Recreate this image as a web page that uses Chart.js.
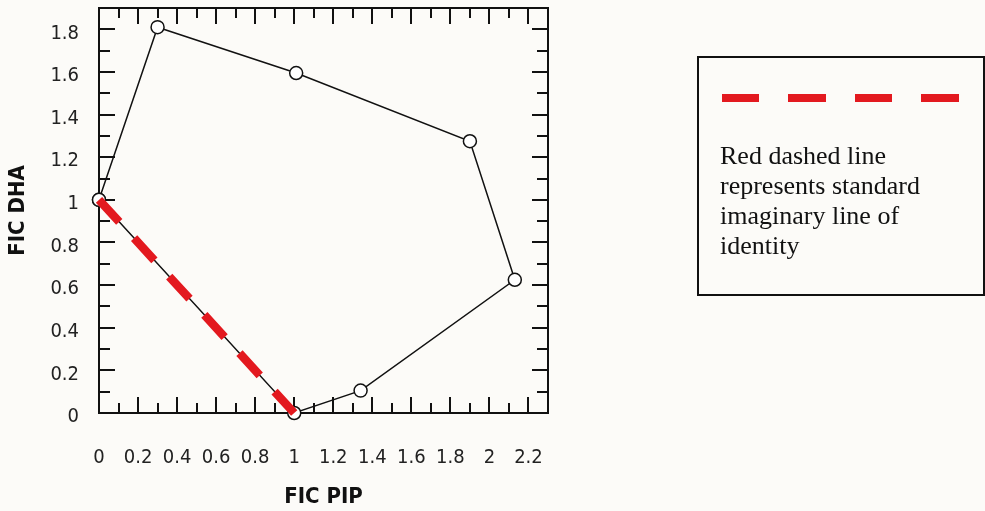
<!DOCTYPE html>
<html>
<head>
<meta charset="utf-8">
<script src="https://cdn.jsdelivr.net/npm/chart.js@4/dist/chart.umd.min.js"></script>
<style>
  html, body { margin: 0; padding: 0; background: #fcfbf8; }
  #wrap { position: relative; width: 985px; height: 511px; }
  #key {
    position: absolute; left: 697px; top: 56px; width: 288px; height: 240px;
    box-sizing: border-box; border: 2px solid #111;
  }
  #keyDash {
    position: absolute; left: 722px; top: 94px; width: 238px; height: 8px;
    background: repeating-linear-gradient(90deg, #e3191f 0 37.5px, transparent 37.5px 66.5px);
  }
  #keyText {
    position: absolute; left: 720px; top: 141px;
    font-family: "Liberation Serif", serif; font-size: 26px; line-height: 30px; color: #111;
  }
</style>
</head>
<body>
<div id="wrap">
  <canvas id="ficChart" width="985" height="511"></canvas>
  <div id="key"></div>
  <div id="keyDash"></div>
  <div id="keyText">Red dashed line<br>represents standard<br>imaginary line of<br>identity</div>
</div>
<script>
// isobologram points (closed polygon, first point repeated at the end)
const ficPip = [0, 0.30, 1.01, 1.90, 2.13, 1.34, 1.00, 0];
const ficDha = [1.00, 1.81, 1.595, 1.275, 0.625, 0.105, 0.0, 1.00];
// line of identity
const identityPip = [0, 1];
const identityDha = [1, 0];

const xTicks = [0, 0.2, 0.4, 0.6, 0.8, 1, 1.2, 1.4, 1.6, 1.8, 2, 2.2];
const yTicks = [0, 0.2, 0.4, 0.6, 0.8, 1, 1.2, 1.4, 1.6, 1.8];

const fmt = v => String(Math.round(v * 10) / 10);

// box round the plot with inward ticks on all four sides
const frame = {
  id: 'frame',
  beforeDatasetsDraw(chart) {
    const { ctx, chartArea: a, scales: { x, y } } = chart;
    ctx.save();
    ctx.strokeStyle = '#111';
    ctx.lineWidth = 2;
    ctx.beginPath();
    for (let i = 1; i <= 22; i++) {
      const px = Math.round(x.getPixelForValue(i / 10));
      const len = i % 2 ? 10 : 16;
      ctx.moveTo(px, a.bottom); ctx.lineTo(px, a.bottom - len);
      ctx.moveTo(px, a.top); ctx.lineTo(px, a.top + len);
    }
    for (let i = 1; i <= 18; i++) {
      const py = Math.round(y.getPixelForValue(i / 10));
      const len = i % 2 ? 11 : 16;
      ctx.moveTo(a.left, py); ctx.lineTo(a.left + len, py);
      ctx.moveTo(a.right, py); ctx.lineTo(a.right - len, py);
    }
    ctx.stroke();
    ctx.strokeRect(a.left, a.top, a.right - a.left, a.bottom - a.top);
    ctx.restore();
  }
};

const tickFont = { family: '"DejaVu Sans Condensed", "DejaVu Sans", sans-serif', size: 20 };
const titleFont = { family: '"DejaVu Sans Condensed", "DejaVu Sans", sans-serif', size: 22, weight: 'bold' };

new Chart(document.getElementById('ficChart').getContext('2d'), {
  type: 'scatter',
  data: {
    datasets: [{
      data: ficPip.map((v, i) => ({ x: v, y: ficDha[i] })),
      showLine: true,
      borderColor: '#111',
      borderWidth: 1.5,
      pointRadius: 6.5,
      pointBackgroundColor: '#fff',
      pointBorderColor: '#111',
      pointBorderWidth: 1.5,
      clip: false,
      order: 1
    }, {
      data: identityPip.map((v, i) => ({ x: v, y: identityDha[i] })),
      showLine: true,
      borderColor: '#e3191f',
      borderWidth: 8.5,
      borderDash: [30, 22],
      borderCapStyle: 'butt',
      pointRadius: 0,
      clip: false,
      order: 0
    }]
  },
  options: {
    responsive: false,
    animation: false,
    devicePixelRatio: 1,
    layout: { padding: { top: 8, right: 437, bottom: 0, left: 0 } },
    plugins: { legend: { display: false }, tooltip: { enabled: false } },
    scales: {
      x: {
        type: 'linear', min: 0, max: 2.3,
        grid: { display: false }, border: { display: false },
        afterBuildTicks: s => { s.ticks = xTicks.map(v => ({ value: v })); },
        afterFit: s => { s.height = 98; s.paddingLeft = 0; s.paddingRight = 0; },
        ticks: { font: tickFont, color: '#222', padding: 25, maxRotation: 0, autoSkip: false, callback: fmt },
        title: { display: true, text: 'FIC PIP', font: titleFont, color: '#111', padding: { top: 0, bottom: 1 } }
      },
      y: {
        type: 'linear', min: 0, max: 1.9,
        grid: { display: false }, border: { display: false },
        afterBuildTicks: s => { s.ticks = yTicks.map(v => ({ value: v })); },
        afterFit: s => { s.width = 99; s.paddingTop = 0; s.paddingBottom = 0; },
        ticks: { font: tickFont, color: '#222', padding: 12, labelOffset: 4, autoSkip: false, callback: fmt },
        title: { display: true, text: 'FIC DHA', font: titleFont, color: '#111', padding: { top: 5, bottom: 0 } }
      }
    }
  },
  plugins: [frame]
});
</script>
</body>
</html>
